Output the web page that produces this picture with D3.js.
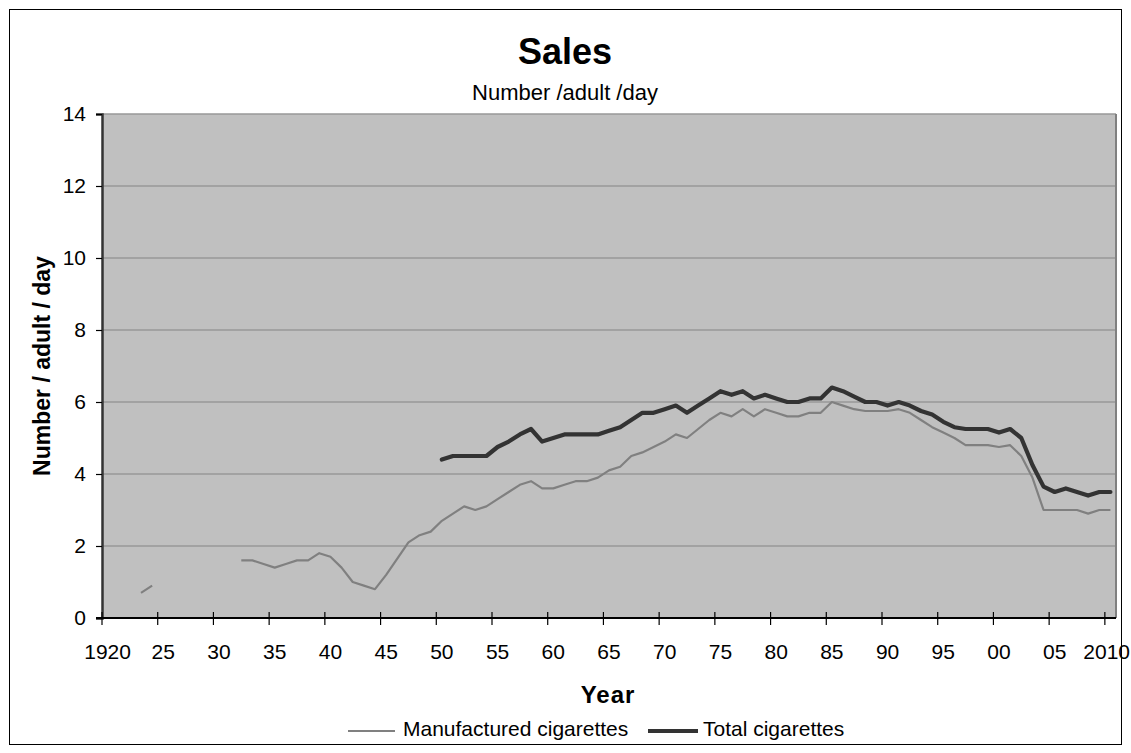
<!DOCTYPE html>
<html>
<head>
<meta charset="utf-8">
<script src="https://cdn.jsdelivr.net/npm/d3@7"></script>
<style>
  html, body { margin: 0; padding: 0; background: #fff; }
  svg { display: block; font-family: "Liberation Sans", Arial, sans-serif; }
</style>
</head>
<body>
<svg id="chart" width="1131" height="753"></svg>
<script>
// Categories: one per year, 1920-2010
const years = d3.range(1920, 2011);

// Tick labels shown every five years
const tickYears = [1920, 1925, 1930, 1935, 1940, 1945, 1950, 1955, 1960, 1965, 1970,
                   1975, 1980, 1985, 1990, 1995, 2000, 2005, 2010];
const tickLabels = ["1920", "25", "30", "35", "40", "45", "50", "55", "60", "65", "70",
                    "75", "80", "85", "90", "95", "00", "05", "2010"];

// Manufactured cigarettes, number per adult per day (null = no data)
const manufactured = [
  null, null, null, 0.7, 0.9, null, null, null, null, null,           // 1920-29
  null, null, 1.6, 1.6, 1.5, 1.4, 1.5, 1.6, 1.6, 1.8,                 // 1930-39
  1.7, 1.4, 1.0, 0.9, 0.8, 1.2, 1.65, 2.1, 2.3, 2.4,                  // 1940-49
  2.7, 2.9, 3.1, 3.0, 3.1, 3.3, 3.5, 3.7, 3.8, 3.6,                   // 1950-59
  3.6, 3.7, 3.8, 3.8, 3.9, 4.1, 4.2, 4.5, 4.6, 4.75,                  // 1960-69
  4.9, 5.1, 5.0, 5.25, 5.5, 5.7, 5.6, 5.8, 5.6, 5.8,                  // 1970-79
  5.7, 5.6, 5.6, 5.7, 5.7, 6.0, 5.9, 5.8, 5.75, 5.75,                 // 1980-89
  5.75, 5.8, 5.7, 5.5, 5.3, 5.15, 5.0, 4.8, 4.8, 4.8,                 // 1990-99
  4.75, 4.8, 4.5, 3.9, 3.0, 3.0, 3.0, 3.0, 2.9, 3.0,                  // 2000-09
  3.0                                                                 // 2010
];

// Total cigarettes, number per adult per day (null = no data)
const total = [
  null, null, null, null, null, null, null, null, null, null,         // 1920-29
  null, null, null, null, null, null, null, null, null, null,         // 1930-39
  null, null, null, null, null, null, null, null, null, null,         // 1940-49
  4.4, 4.5, 4.5, 4.5, 4.5, 4.75, 4.9, 5.1, 5.25, 4.9,                 // 1950-59
  5.0, 5.1, 5.1, 5.1, 5.1, 5.2, 5.3, 5.5, 5.7, 5.7,                   // 1960-69
  5.8, 5.9, 5.7, 5.9, 6.1, 6.3, 6.2, 6.3, 6.1, 6.2,                   // 1970-79
  6.1, 6.0, 6.0, 6.1, 6.1, 6.4, 6.3, 6.15, 6.0, 6.0,                  // 1980-89
  5.9, 6.0, 5.9, 5.75, 5.65, 5.45, 5.3, 5.25, 5.25, 5.25,             // 1990-99
  5.15, 5.25, 5.0, 4.25, 3.65, 3.5, 3.6, 3.5, 3.4, 3.5,               // 2000-09
  3.5                                                                 // 2010
];

const yTicks = [0, 2, 4, 6, 8, 10, 12, 14];

const svg = d3.select("#chart");
const W = 1131;
const plot = { left: 102, right: 1116, top: 114, bottom: 618 };
const font = "Liberation Sans, Arial, sans-serif";

// Outer chart frame
svg.append("rect")
  .attr("x", 9.5).attr("y", 9.5)
  .attr("width", 1112).attr("height", 735)
  .attr("fill", "#fff").attr("stroke", "#000").attr("stroke-width", 1);

const x = d3.scaleBand().domain(years).range([plot.left, plot.right]).padding(0);
const y = d3.scaleLinear().domain([0, 14]).range([plot.bottom, plot.top]);

// Plot area background
svg.append("rect")
  .attr("x", plot.left).attr("y", plot.top)
  .attr("width", plot.right - plot.left).attr("height", plot.bottom - plot.top)
  .attr("fill", "#c0c0c0");

// Horizontal gridlines
svg.append("g")
  .selectAll("line")
  .data(yTicks.filter(d => d > 0))
  .join("line")
  .attr("x1", plot.left).attr("x2", plot.right)
  .attr("y1", d => y(d)).attr("y2", d => y(d))
  .attr("stroke", "#999").attr("stroke-width", 1.5);

// Right edge of plot area
svg.append("line")
  .attr("x1", plot.right).attr("x2", plot.right)
  .attr("y1", plot.top).attr("y2", plot.bottom)
  .attr("stroke", "#808080").attr("stroke-width", 2);

// Y axis
const yAxis = d3.axisLeft(y).tickValues(yTicks).tickSize(6).tickPadding(10).tickFormat(d3.format("d"));
const gy = svg.append("g").attr("transform", `translate(${plot.left},0)`).call(yAxis);
gy.select(".domain").attr("stroke", "#333").attr("stroke-width", 2.5);
gy.selectAll(".tick line").attr("stroke", "#000").attr("stroke-width", 1.2);
gy.selectAll(".tick text").attr("font-size", 21).attr("fill", "#000").attr("font-family", font);

// X axis: ticks on the category boundaries, labels centred on the categories
const gx = svg.append("g");
gx.append("line")
  .attr("x1", plot.left - 6).attr("x2", plot.right)
  .attr("y1", plot.bottom).attr("y2", plot.bottom)
  .attr("stroke", "#000").attr("stroke-width", 2);
gx.selectAll("line.tick")
  .data(tickYears)
  .join("line").attr("class", "tick")
  .attr("x1", d => x(d)).attr("x2", d => x(d))
  .attr("y1", plot.bottom - 6).attr("y2", plot.bottom + 7)
  .attr("stroke", "#000").attr("stroke-width", 1.2);
gx.selectAll("text")
  .data(tickYears)
  .join("text")
  .attr("x", d => x(d) + x.bandwidth() / 2)
  .attr("y", plot.bottom + 41)
  .attr("text-anchor", "middle")
  .attr("font-size", 21)
  .text((d, i) => tickLabels[i])
  .each(function () {
    // keep the last label inside the page
    const b = this.getBBox();
    if (b.x + b.width > W - 1) d3.select(this).attr("x", +d3.select(this).attr("x") - (b.x + b.width - (W - 1)));
  });

// Series lines
const line = d3.line()
  .defined(d => d.v != null)
  .x(d => x(d.year) + x.bandwidth() / 2)
  .y(d => y(d.v));

svg.append("path")
  .datum(years.map((yr, i) => ({ year: yr, v: manufactured[i] })))
  .attr("d", line)
  .attr("fill", "none").attr("stroke", "#808080").attr("stroke-width", 2.2)
  .attr("stroke-linejoin", "round");

svg.append("path")
  .datum(years.map((yr, i) => ({ year: yr, v: total[i] })))
  .attr("d", line)
  .attr("fill", "none").attr("stroke", "#333").attr("stroke-width", 4.2)
  .attr("stroke-linejoin", "round").attr("stroke-linecap", "round");

// Titles
svg.append("text")
  .attr("x", 565).attr("y", 64).attr("text-anchor", "middle")
  .attr("font-size", 36).attr("font-weight", "bold").text("Sales");
svg.append("text")
  .attr("x", 565).attr("y", 100).attr("text-anchor", "middle")
  .attr("font-size", 22).text("Number /adult /day");

svg.append("text")
  .attr("transform", `translate(50,${(plot.top + plot.bottom) / 2}) rotate(-90)`)
  .attr("text-anchor", "middle")
  .attr("font-size", 23).attr("font-weight", "bold").text("Number / adult / day");

svg.append("text")
  .attr("x", 608).attr("y", 703).attr("text-anchor", "middle")
  .attr("font-size", 24).attr("font-weight", "bold").attr("letter-spacing", 1).text("Year");

// Legend
const legend = svg.append("g").attr("transform", "translate(348,736)");
legend.append("line").attr("x1", 0).attr("x2", 47).attr("y1", -5).attr("y2", -5)
  .attr("stroke", "#808080").attr("stroke-width", 2.2);
legend.append("text").attr("x", 55).attr("y", 0).attr("font-size", 21)
  .text("Manufactured cigarettes");
legend.append("line").attr("x1", 300).attr("x2", 350).attr("y1", -5).attr("y2", -5)
  .attr("stroke", "#333").attr("stroke-width", 4.2);
legend.append("text").attr("x", 355).attr("y", 0).attr("font-size", 21)
  .text("Total cigarettes");
</script>
</body>
</html>
